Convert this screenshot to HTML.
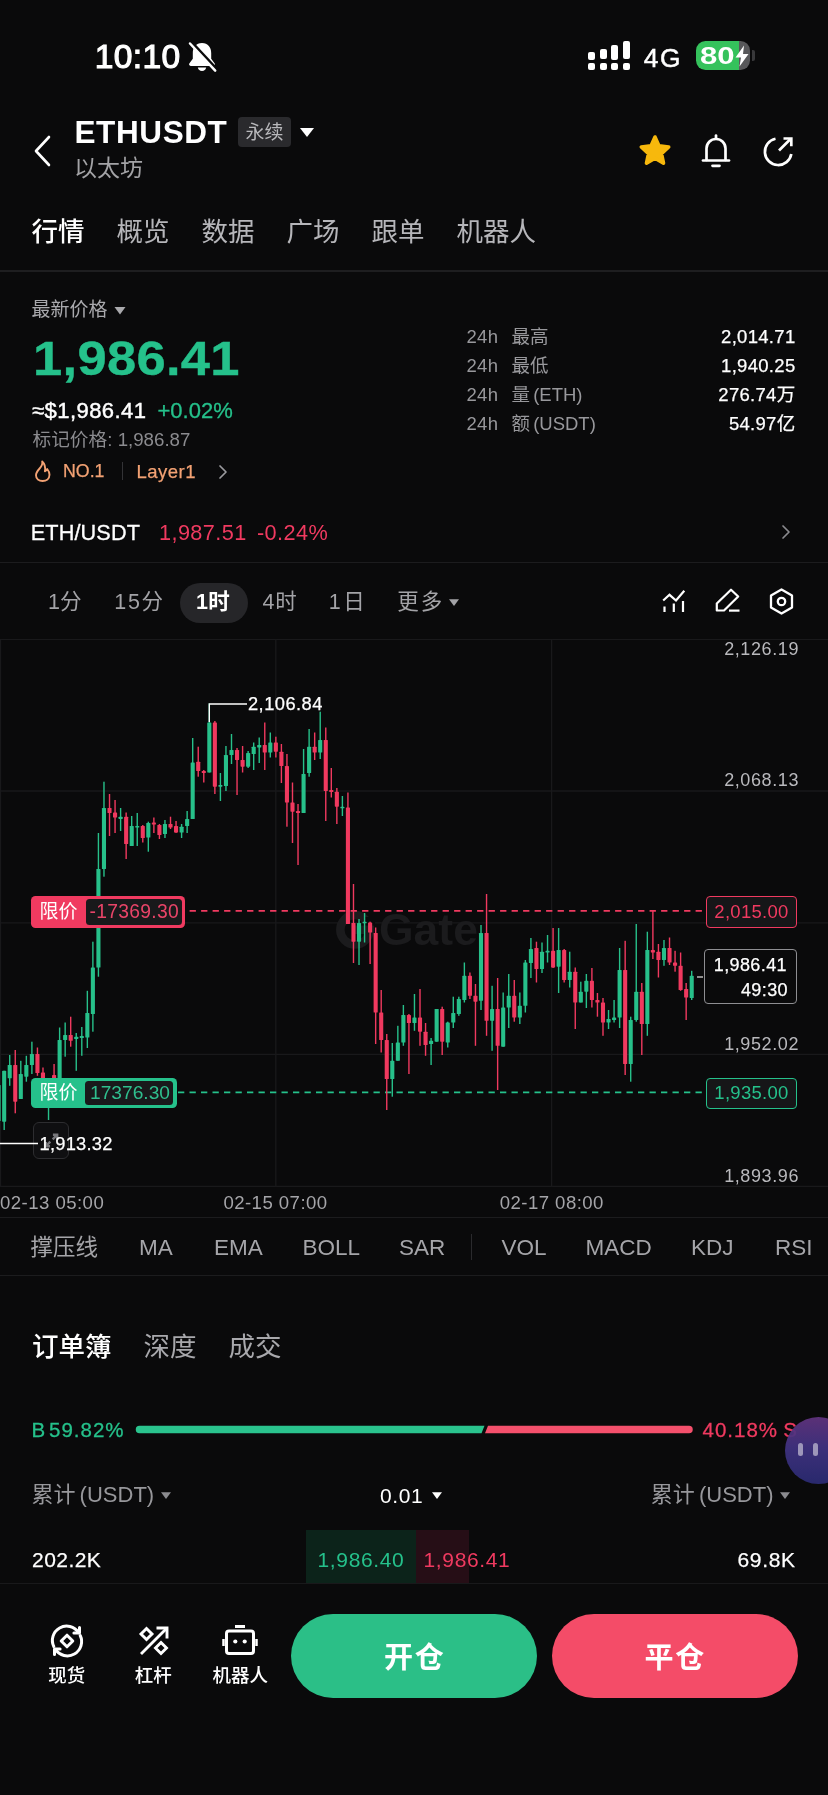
<!DOCTYPE html>
<html lang="zh-CN"><head><meta charset="utf-8"><title>ETHUSDT</title>
<style>
html,body{margin:0;padding:0;background:#0a0a0b;}
body{width:828px;height:1795px;position:relative;overflow:hidden;font-family:"Liberation Sans","Noto Sans CJK SC",sans-serif;color:#fff;}
.a{position:absolute;display:block;}
.t{position:absolute;white-space:nowrap;line-height:1;}
#w{position:absolute;left:0;top:0;width:828px;height:1795px;will-change:transform;}
</style></head><body><div id="w">
<div class="t" style="left:94.8px;top:40.3px;font-size:33.6px;color:#fff;letter-spacing:0.35px;-webkit-text-stroke:1.100px #fff;">10:10</div>
<svg class="a" style="left:185px;top:40px" width="34" height="34" viewBox="0 0 34 34">
<path d="M17 3C11 3 7.800 7.500 7.800 13V18.800L4.300 23.600C3.700 24.700 4.300 25.900 5.700 25.900H28.300C29.700 25.900 30.300 24.700 29.700 23.600L26.200 18.800V13C26.200 7.500 23 3 17 3Z" fill="#fff"/>
<path d="M12.800 27.600a4.300 4.300 0 0 0 8.400 0z" fill="#fff"/>
<path d="M3.500 0.500L31.500 30.500" stroke="#0a0a0b" stroke-width="3.600" stroke-linecap="butt" transform="translate(1.950,1.100)"/>
<path d="M5 3.500L30.200 30.600" stroke="#fff" stroke-width="2.500" stroke-linecap="round"/>
</svg>
<div class="a" style="left:588px;top:52px;width:7px;height:7.5px;background:#fff;border-radius:2px;"></div>
<div class="a" style="left:588px;top:62.5px;width:7px;height:7px;background:#fff;border-radius:2px;"></div>
<div class="a" style="left:599.5px;top:48.7px;width:7px;height:10.799999999999997px;background:#fff;border-radius:2px;"></div>
<div class="a" style="left:599.5px;top:62.5px;width:7px;height:7px;background:#fff;border-radius:2px;"></div>
<div class="a" style="left:611px;top:45px;width:7px;height:14.5px;background:#fff;border-radius:2px;"></div>
<div class="a" style="left:611px;top:62.5px;width:7px;height:7px;background:#fff;border-radius:2px;"></div>
<div class="a" style="left:622.5px;top:41.2px;width:7px;height:18.299999999999997px;background:#fff;border-radius:2px;"></div>
<div class="a" style="left:622.5px;top:62.5px;width:7px;height:7px;background:#fff;border-radius:2px;"></div>
<div class="t" style="left:643.8px;top:45.0px;font-size:26.3px;color:#fff;letter-spacing:1.5px;-webkit-text-stroke:0.5px #fff;">4G</div>
<div class="a" style="left:695.5px;top:41px;width:54.500px;height:29px;border-radius:9.500px;background:linear-gradient(90deg,#35c25c 0,#35c25c 79%,#58585a 79%);overflow:hidden"></div>
<div class="a" style="left:751.500px;top:50px;width:3.500px;height:11px;border-radius:0 2px 2px 0;background:#38383a"></div>
<div class="t" style="left:699.5px;top:43.9px;font-size:24.5px;color:#fff;font-weight:700;transform:scaleX(1.27);transform-origin:0 50%;">80</div>
<svg class="a" style="left:733px;top:44px" width="18" height="24" viewBox="0 0 18 24"><path d="M11 1.500L2.500 13.500h5.500L6.500 22.500L15.500 10h-5.500z" fill="#fff"/></svg>
<svg class="a" style="left:30px;top:130px" width="26" height="42" viewBox="0 0 26 42"><path d="M19 7L6 21L19 35" fill="none" stroke="#fff" stroke-width="2.600" stroke-linecap="round" stroke-linejoin="round"/></svg>
<div class="t" style="left:74.5px;top:116.9px;font-size:31.5px;color:#fff;font-weight:700;letter-spacing:0.6px;">ETHUSDT</div>
<div class="a" style="left:238px;top:117px;width:53px;height:30px;border-radius:4px;background:#2a2a2d"></div>
<div class="t" style="left:264.5px;transform:translateX(-50%);top:122.9px;font-size:19px;color:#b8b8bb;">永续</div>
<svg class="a" style="left:299px;top:126px" width="16" height="12" viewBox="0 0 16 12"><path d="M1 2h14L8 11z" fill="#fff"/></svg>
<div class="t" style="left:74px;top:157.0px;font-size:23px;color:#a3a3a6;">以太坊</div>
<svg class="a" style="left:636px;top:132px" width="38" height="38" viewBox="0 0 38 38"><path d="M19 5l4 8.900 9.700 1.100-7.200 6.600 2 9.600L19 26.300l-8.500 4.900 2-9.600L5.300 15l9.700-1.100z" fill="#f7b80c" stroke="#f7b80c" stroke-width="3.600" stroke-linejoin="round"/></svg>
<svg class="a" style="left:698px;top:130px" width="36" height="40" viewBox="0 0 36 40"><g fill="none" stroke="#fff" stroke-width="2.700" stroke-linecap="round" stroke-linejoin="round"><path d="M18 5.500v2.500"/><path d="M8.500 30V18.500a9.500 9.500 0 0 1 19 0V30"/><path d="M5 30.500h26"/><path d="M14.500 35.800h7"/></g></svg>
<svg class="a" style="left:760px;top:132px" width="36" height="38" viewBox="0 0 36 38"><g fill="none" stroke="#fff" stroke-width="2.700" stroke-linecap="butt" stroke-linejoin="miter"><path d="M15.500 6.700A13.300 13.300 0 1 0 31.300 22"/><path d="M19 18.500L30.500 7"/><path d="M23.500 6.500h7.800v7.800"/></g></svg>
<div class="t" style="left:31.5px;top:218.6px;font-size:26.5px;color:#fff;font-weight:500;">行情</div>
<div class="t" style="left:116.5px;top:218.6px;font-size:26.5px;color:#b6b6ba;">概览</div>
<div class="t" style="left:201.5px;top:218.6px;font-size:26.5px;color:#b6b6ba;">数据</div>
<div class="t" style="left:286.5px;top:218.6px;font-size:26.5px;color:#b6b6ba;">广场</div>
<div class="t" style="left:371.5px;top:218.6px;font-size:26.5px;color:#b6b6ba;">跟单</div>
<div class="t" style="left:456.5px;top:218.6px;font-size:26.5px;color:#b6b6ba;">机器人</div>
<div class="a" style="left:0px;top:270px;width:828px;height:1.5px;background:#1e1e20;"></div>
<div class="t" style="left:31.5px;top:299.9px;font-size:19px;color:#a9a9ad;">最新价格</div>
<svg class="a" style="left:114px;top:306px" width="12" height="9" viewBox="0 0 12 9"><path d="M.5 1h11L6 8.500z" fill="#a9a9ad"/></svg>
<div class="t" style="left:33.4px;top:333.9px;font-size:48.5px;color:#25c18b;font-weight:700;letter-spacing:0.3px;transform:scaleX(1.082);transform-origin:0 50%;-webkit-text-stroke:0.400px #25c18b;">1,986.41</div>
<div class="t" style="left:32px;top:399.7px;font-size:22px;color:#fff;letter-spacing:0.45px;-webkit-text-stroke:0.450px #fff;">≈$1,986.41</div>
<div class="t" style="left:157.5px;top:399.7px;font-size:22px;color:#25c18b;-webkit-text-stroke:0.300px #25c18b;">+0.02%</div>
<div class="t" style="left:32.5px;top:430.7px;font-size:18.7px;color:#8b8b8f;">标记价格: 1,986.87</div>
<svg class="a" style="left:32px;top:459px" width="22" height="24" viewBox="0 0 22 24"><path d="M10.200 2.500c.8 3.200-.8 5-2.600 7-1.900 2.100-3.600 4-3.600 6.800 0 3.600 3 5.700 6.600 5.700s6.900-2.200 6.900-6.200c0-2.300-1-4.200-2.300-5.800-.5 1.300-1.300 2-2.300 2.300.7-3.600-.300-7.500-2.700-9.800z" fill="none" stroke="#f3a274" stroke-width="1.900" stroke-linejoin="round"/></svg>
<div class="t" style="left:63px;top:463.2px;font-size:17.8px;color:#f3a274;-webkit-text-stroke:0.250px #f3a274;">NO.1</div>
<div class="a" style="left:121.5px;top:462px;width:1.2px;height:18px;background:#333336;"></div>
<div class="t" style="left:136.5px;top:462.6px;font-size:18.5px;color:#f3a274;letter-spacing:0.5px;-webkit-text-stroke:0.250px #f3a274;">Layer1</div>
<svg class="a" style="left:216px;top:463px" width="14" height="18" viewBox="0 0 14 18"><path d="M4 3l6 6-6 6" fill="none" stroke="#9a9a9e" stroke-width="1.700" stroke-linecap="round" stroke-linejoin="round"/></svg>
<div class="t" style="left:466.5px;top:328.1px;font-size:18.5px;color:#98989c;letter-spacing:0.3px;">24h</div>
<div class="t" style="left:511.5px;top:328.1px;font-size:18.5px;color:#98989c;word-spacing:-2px;">最高</div>
<div class="t" style="right:32.5px;top:328.1px;font-size:18.5px;color:#fff;letter-spacing:0.3px;-webkit-text-stroke:0.250px #fff;">2,014.71</div>
<div class="t" style="left:466.5px;top:357.2px;font-size:18.5px;color:#98989c;letter-spacing:0.3px;">24h</div>
<div class="t" style="left:511.5px;top:357.2px;font-size:18.5px;color:#98989c;word-spacing:-2px;">最低</div>
<div class="t" style="right:32.5px;top:357.2px;font-size:18.5px;color:#fff;letter-spacing:0.3px;-webkit-text-stroke:0.250px #fff;">1,940.25</div>
<div class="t" style="left:466.5px;top:386.0px;font-size:18.5px;color:#98989c;letter-spacing:0.3px;">24h</div>
<div class="t" style="left:511.5px;top:386.0px;font-size:18.5px;color:#98989c;word-spacing:-2px;">量 (ETH)</div>
<div class="t" style="right:32.5px;top:386.0px;font-size:18.5px;color:#fff;letter-spacing:0.3px;-webkit-text-stroke:0.250px #fff;">276.74万</div>
<div class="t" style="left:466.5px;top:415.0px;font-size:18.5px;color:#98989c;letter-spacing:0.3px;">24h</div>
<div class="t" style="left:511.5px;top:415.0px;font-size:18.5px;color:#98989c;word-spacing:-2px;">额 (USDT)</div>
<div class="t" style="right:32.5px;top:415.0px;font-size:18.5px;color:#fff;letter-spacing:0.3px;-webkit-text-stroke:0.250px #fff;">54.97亿</div>
<div class="t" style="left:30.8px;top:522.4px;font-size:21.7px;color:#fff;letter-spacing:0.1px;-webkit-text-stroke:0.300px #fff;">ETH/USDT</div>
<div class="t" style="left:159px;top:522.4px;font-size:21.7px;color:#f03a60;letter-spacing:0.4px;">1,987.51</div>
<div class="t" style="left:257px;top:522.4px;font-size:21.7px;color:#f03a60;letter-spacing:0.4px;">-0.24%</div>
<svg class="a" style="left:779px;top:522px" width="14" height="20" viewBox="0 0 14 20"><path d="M4 4l6 6-6 6" fill="none" stroke="#8a8a8e" stroke-width="1.700" stroke-linecap="round" stroke-linejoin="round"/></svg>
<div class="a" style="left:0px;top:561.5px;width:828px;height:1.5px;background:#1c1c1e;"></div>
<div class="a" style="left:179.5px;top:582.5px;width:68px;height:40.5px;background:#262629;border-radius:21px;"></div>
<div class="t" style="left:48px;top:591.8px;font-size:21.5px;color:#a3a3a7;">1分</div>
<div class="t" style="left:114.3px;top:591.8px;font-size:21.5px;color:#a3a3a7;letter-spacing:1.7px;">15分</div>
<div class="t" style="left:196px;top:591.8px;font-size:21.5px;color:#fff;font-weight:700;letter-spacing:0.3px;">1时</div>
<div class="t" style="left:262.5px;top:591.8px;font-size:21.5px;color:#a3a3a7;letter-spacing:0.7px;">4时</div>
<div class="t" style="left:328.8px;top:591.8px;font-size:21.5px;color:#a3a3a7;letter-spacing:2.6px;">1日</div>
<div class="t" style="left:397.3px;top:591.8px;font-size:21.5px;color:#a3a3a7;letter-spacing:2.0px;">更多</div>
<svg class="a" style="left:448px;top:598px" width="12" height="9" viewBox="0 0 12 9"><path d="M1 1.200h10L6 8z" fill="#a3a3a7"/></svg>
<svg class="a" style="left:660px;top:586px" width="28" height="30" viewBox="0 0 28 30"><g fill="none" stroke="#fff" stroke-width="2.200" stroke-linejoin="miter"><path d="M3.200 14.500l6.300-5.700 6.500 5.700 8.300-9.800"/><path d="M4.500 20.500v5.500M13.800 17.500v8.500M23 15v11"/></g></svg>
<svg class="a" style="left:713px;top:586px" width="30" height="30" viewBox="0 0 30 30"><g fill="none" stroke="#fff" stroke-width="2.200" stroke-linejoin="round" stroke-linecap="butt"><path d="M3.800 17.500L18 3.700l7.200 6.800L11 24.500H3.800z"/><path d="M16 24.600h10.500"/></g></svg>
<svg class="a" style="left:767px;top:586px" width="30" height="32" viewBox="0 0 30 32"><g fill="none" stroke="#fff" stroke-width="2.300" stroke-linejoin="round"><path d="M14.500 3.500l10.500 6v12l-10.500 6-10.500-6v-12z"/><circle cx="14.500" cy="15.500" r="3.700"/></g></svg>
<div class="a" style="left:32.500px;top:1122px;width:36px;height:36.500px;border-radius:6px;background:#0f0f11;border:1.400px solid #2d2d30;box-sizing:border-box"></div>
<svg class="a" style="left:42px;top:1131px" width="19" height="19" viewBox="0 0 24 24"><g fill="none" stroke="#77777b" stroke-width="3"><path d="M13.500 10.500L19 5M13.800 4.800H19.200V10.200"/><path d="M10.500 13.500L5 19M4.800 13.800V19.200H10.200"/></g></svg>
<svg class="a" style="left:0;top:639px" width="828" height="552" viewBox="0 0 828 552">
<g stroke="#19191b" stroke-width="1.300">
<line x1="0" x2="828" y1="0.2999999999999545" y2="0.2999999999999545"/>
<line x1="0" x2="828" y1="152" y2="152"/>
<line x1="0" x2="828" y1="283.79999999999995" y2="283.79999999999995"/>
<line x1="0" x2="828" y1="415.29999999999995" y2="415.29999999999995"/>
<line x1="0" x2="828" y1="547.3" y2="547.3"/>
<line x1="0.5" x2="0.5" y1="0" y2="547.3"/>
<line x1="275.8" x2="275.8" y1="0" y2="547.3"/>
<line x1="551.6" x2="551.6" y1="0" y2="547.3"/>
</g>
<circle cx="355" cy="290.79999999999995" r="14.700" fill="none" stroke="#1b1b1d" stroke-width="8.500"/><rect x="355" y="286.5" width="19" height="8.500" fill="#1b1b1d"/><rect x="364" y="278" width="11" height="8.500" fill="#0a0a0b"/>
<text x="379" y="306" font-family='"Liberation Sans","Noto Sans CJK SC",sans-serif' font-size="44.500" font-weight="700" fill="#1b1b1d">Gate</text>
<line x1="178.100" x2="705" y1="271.79999999999995" y2="271.79999999999995" stroke="#f03a60" stroke-width="1.700" stroke-dasharray="6.300 5.200"/>
<line x1="178" x2="705" y1="453.29999999999995" y2="453.29999999999995" stroke="#25c18b" stroke-width="1.700" stroke-dasharray="6.300 5.200"/>
<rect x="-2.08" y="436.0" width="1.4" height="68.0" fill="#27c08a"/>
<rect x="-3.42" y="446.0" width="4.1" height="36.0" fill="#27c08a" rx="0.6"/>
<rect x="3.47" y="431.8" width="1.4" height="59.2" fill="#27c08a"/>
<rect x="2.12" y="431.8" width="4.1" height="50.9" fill="#27c08a" rx="0.6"/>
<rect x="9.01" y="416.0" width="1.4" height="30.8" fill="#27c08a"/>
<rect x="7.66" y="426.0" width="4.1" height="13.3" fill="#27c08a" rx="0.6"/>
<rect x="14.56" y="411.0" width="1.4" height="63.3" fill="#f0395f"/>
<rect x="13.21" y="426.0" width="4.1" height="36.7" fill="#f0395f" rx="0.6"/>
<rect x="20.10" y="421.8" width="1.4" height="38.2" fill="#27c08a"/>
<rect x="18.75" y="435.0" width="4.1" height="25.0" fill="#27c08a" rx="0.6"/>
<rect x="25.65" y="416.8" width="1.4" height="25.9" fill="#27c08a"/>
<rect x="24.30" y="426.0" width="4.1" height="11.7" fill="#27c08a" rx="0.6"/>
<rect x="31.19" y="402.7" width="1.4" height="32.3" fill="#27c08a"/>
<rect x="29.84" y="415.0" width="4.1" height="11.0" fill="#27c08a" rx="0.6"/>
<rect x="36.74" y="408.5" width="1.4" height="28.3" fill="#f0395f"/>
<rect x="35.39" y="415.0" width="4.1" height="19.0" fill="#f0395f" rx="0.6"/>
<rect x="42.28" y="428.5" width="1.4" height="17.5" fill="#f0395f"/>
<rect x="40.93" y="433.5" width="4.1" height="7.5" fill="#f0395f" rx="0.6"/>
<rect x="47.83" y="439.0" width="1.4" height="42.0" fill="#27c08a"/>
<rect x="46.48" y="441.0" width="4.1" height="20.0" fill="#27c08a" rx="0.6"/>
<rect x="53.37" y="425.0" width="1.4" height="21.0" fill="#f0395f"/>
<rect x="52.02" y="436.0" width="4.1" height="5.0" fill="#f0395f" rx="0.6"/>
<rect x="58.92" y="388.5" width="1.4" height="54.5" fill="#27c08a"/>
<rect x="57.57" y="401.0" width="4.1" height="40.0" fill="#27c08a" rx="0.6"/>
<rect x="64.46" y="383.5" width="1.4" height="34.2" fill="#27c08a"/>
<rect x="63.11" y="396.0" width="4.1" height="5.0" fill="#27c08a" rx="0.6"/>
<rect x="70.00" y="377.7" width="1.4" height="30.0" fill="#f0395f"/>
<rect x="68.65" y="396.0" width="4.1" height="5.8" fill="#f0395f" rx="0.6"/>
<rect x="75.55" y="394.0" width="1.4" height="37.8" fill="#27c08a"/>
<rect x="74.20" y="397.7" width="4.1" height="2.3" fill="#27c08a" rx="0.6"/>
<rect x="81.09" y="388.0" width="1.4" height="28.8" fill="#27c08a"/>
<rect x="79.74" y="397.0" width="4.1" height="2.0" fill="#27c08a" rx="0.6"/>
<rect x="86.64" y="351.8" width="1.4" height="57.2" fill="#27c08a"/>
<rect x="85.29" y="374.0" width="4.1" height="24.5" fill="#27c08a" rx="0.6"/>
<rect x="92.18" y="302.7" width="1.4" height="90.0" fill="#27c08a"/>
<rect x="90.83" y="328.5" width="4.1" height="46.5" fill="#27c08a" rx="0.6"/>
<rect x="97.73" y="194.0" width="1.4" height="143.7" fill="#27c08a"/>
<rect x="96.38" y="230.0" width="4.1" height="98.5" fill="#27c08a" rx="0.6"/>
<rect x="103.27" y="142.7" width="1.4" height="95.0" fill="#27c08a"/>
<rect x="101.92" y="169.0" width="4.1" height="61.0" fill="#27c08a" rx="0.6"/>
<rect x="108.82" y="155.0" width="1.4" height="42.0" fill="#f0395f"/>
<rect x="107.47" y="169.0" width="4.1" height="5.0" fill="#f0395f" rx="0.6"/>
<rect x="114.36" y="161.0" width="1.4" height="33.0" fill="#f0395f"/>
<rect x="113.01" y="173.5" width="4.1" height="5.0" fill="#f0395f" rx="0.6"/>
<rect x="119.91" y="169.0" width="1.4" height="23.0" fill="#27c08a"/>
<rect x="118.56" y="177.7" width="4.1" height="2.3" fill="#27c08a" rx="0.6"/>
<rect x="125.45" y="173.5" width="1.4" height="46.5" fill="#f0395f"/>
<rect x="124.10" y="177.7" width="4.1" height="27.3" fill="#f0395f" rx="0.6"/>
<rect x="131.00" y="177.0" width="1.4" height="30.0" fill="#27c08a"/>
<rect x="129.65" y="187.0" width="4.1" height="20.0" fill="#27c08a" rx="0.6"/>
<rect x="136.54" y="174.0" width="1.4" height="33.0" fill="#27c08a"/>
<rect x="135.19" y="187.0" width="4.1" height="1.6" fill="#27c08a" rx="0.6"/>
<rect x="142.08" y="186.0" width="1.4" height="17.5" fill="#f0395f"/>
<rect x="140.73" y="187.0" width="4.1" height="12.0" fill="#f0395f" rx="0.6"/>
<rect x="147.63" y="182.7" width="1.4" height="30.0" fill="#27c08a"/>
<rect x="146.28" y="184.0" width="4.1" height="14.5" fill="#27c08a" rx="0.6"/>
<rect x="153.17" y="178.5" width="1.4" height="15.5" fill="#f0395f"/>
<rect x="151.82" y="183.5" width="4.1" height="2.0" fill="#f0395f" rx="0.6"/>
<rect x="158.72" y="185.0" width="1.4" height="15.0" fill="#f0395f"/>
<rect x="157.37" y="186.0" width="4.1" height="10.0" fill="#f0395f" rx="0.6"/>
<rect x="164.26" y="181.0" width="1.4" height="18.0" fill="#27c08a"/>
<rect x="162.91" y="185.0" width="4.1" height="10.0" fill="#27c08a" rx="0.6"/>
<rect x="169.81" y="177.7" width="1.4" height="12.3" fill="#f0395f"/>
<rect x="168.46" y="185.0" width="4.1" height="3.5" fill="#f0395f" rx="0.6"/>
<rect x="175.35" y="182.0" width="1.4" height="12.0" fill="#f0395f"/>
<rect x="174.00" y="187.0" width="4.1" height="6.5" fill="#f0395f" rx="0.6"/>
<rect x="180.90" y="185.0" width="1.4" height="14.0" fill="#27c08a"/>
<rect x="179.55" y="187.7" width="4.1" height="5.8" fill="#27c08a" rx="0.6"/>
<rect x="186.44" y="172.0" width="1.4" height="22.0" fill="#27c08a"/>
<rect x="185.09" y="180.0" width="4.1" height="7.0" fill="#27c08a" rx="0.6"/>
<rect x="191.99" y="99.0" width="1.4" height="81.0" fill="#27c08a"/>
<rect x="190.64" y="123.5" width="4.1" height="56.5" fill="#27c08a" rx="0.6"/>
<rect x="197.53" y="107.7" width="1.4" height="30.0" fill="#f0395f"/>
<rect x="196.18" y="122.7" width="4.1" height="9.3" fill="#f0395f" rx="0.6"/>
<rect x="203.08" y="131.0" width="1.4" height="12.5" fill="#f0395f"/>
<rect x="201.73" y="132.0" width="4.1" height="2.0" fill="#f0395f" rx="0.6"/>
<rect x="208.62" y="64.5" width="1.4" height="69.0" fill="#27c08a"/>
<rect x="207.27" y="83.5" width="4.1" height="50.0" fill="#27c08a" rx="0.6"/>
<rect x="214.16" y="82.0" width="1.4" height="73.0" fill="#f0395f"/>
<rect x="212.81" y="83.5" width="4.1" height="64.2" fill="#f0395f" rx="0.6"/>
<rect x="219.71" y="134.0" width="1.4" height="28.0" fill="#27c08a"/>
<rect x="218.36" y="146.0" width="4.1" height="1.7" fill="#27c08a" rx="0.6"/>
<rect x="225.25" y="107.0" width="1.4" height="45.0" fill="#27c08a"/>
<rect x="223.90" y="116.0" width="4.1" height="31.0" fill="#27c08a" rx="0.6"/>
<rect x="230.80" y="95.0" width="1.4" height="30.0" fill="#27c08a"/>
<rect x="229.45" y="111.0" width="4.1" height="5.0" fill="#27c08a" rx="0.6"/>
<rect x="236.34" y="109.0" width="1.4" height="47.0" fill="#f0395f"/>
<rect x="234.99" y="111.0" width="4.1" height="10.0" fill="#f0395f" rx="0.6"/>
<rect x="241.89" y="107.0" width="1.4" height="26.5" fill="#f0395f"/>
<rect x="240.54" y="121.0" width="4.1" height="6.7" fill="#f0395f" rx="0.6"/>
<rect x="247.43" y="112.0" width="1.4" height="17.0" fill="#27c08a"/>
<rect x="246.08" y="114.0" width="4.1" height="13.7" fill="#27c08a" rx="0.6"/>
<rect x="252.98" y="103.5" width="1.4" height="27.5" fill="#27c08a"/>
<rect x="251.63" y="107.7" width="4.1" height="7.3" fill="#27c08a" rx="0.6"/>
<rect x="258.52" y="98.5" width="1.4" height="25.5" fill="#27c08a"/>
<rect x="257.17" y="106.0" width="4.1" height="2.5" fill="#27c08a" rx="0.6"/>
<rect x="264.07" y="83.5" width="1.4" height="47.5" fill="#f0395f"/>
<rect x="262.72" y="106.0" width="4.1" height="7.5" fill="#f0395f" rx="0.6"/>
<rect x="269.61" y="93.5" width="1.4" height="25.0" fill="#27c08a"/>
<rect x="268.26" y="103.5" width="4.1" height="10.0" fill="#27c08a" rx="0.6"/>
<rect x="275.16" y="97.7" width="1.4" height="20.8" fill="#f0395f"/>
<rect x="273.81" y="103.5" width="4.1" height="9.2" fill="#f0395f" rx="0.6"/>
<rect x="280.70" y="105.0" width="1.4" height="39.0" fill="#f0395f"/>
<rect x="279.35" y="112.7" width="4.1" height="14.3" fill="#f0395f" rx="0.6"/>
<rect x="286.24" y="115.0" width="1.4" height="72.7" fill="#f0395f"/>
<rect x="284.89" y="127.0" width="4.1" height="36.5" fill="#f0395f" rx="0.6"/>
<rect x="291.79" y="143.5" width="1.4" height="60.5" fill="#f0395f"/>
<rect x="290.44" y="163.5" width="4.1" height="9.2" fill="#f0395f" rx="0.6"/>
<rect x="297.33" y="165.0" width="1.4" height="61.0" fill="#f0395f"/>
<rect x="295.98" y="172.0" width="4.1" height="2.0" fill="#f0395f" rx="0.6"/>
<rect x="302.88" y="110.0" width="1.4" height="64.0" fill="#27c08a"/>
<rect x="301.53" y="135.0" width="4.1" height="39.0" fill="#27c08a" rx="0.6"/>
<rect x="308.42" y="90.0" width="1.4" height="47.7" fill="#27c08a"/>
<rect x="307.07" y="107.7" width="4.1" height="26.3" fill="#27c08a" rx="0.6"/>
<rect x="313.97" y="93.5" width="1.4" height="27.5" fill="#f0395f"/>
<rect x="312.62" y="107.7" width="4.1" height="5.8" fill="#f0395f" rx="0.6"/>
<rect x="319.51" y="72.7" width="1.4" height="47.3" fill="#27c08a"/>
<rect x="318.16" y="101.0" width="4.1" height="12.5" fill="#27c08a" rx="0.6"/>
<rect x="325.06" y="88.5" width="1.4" height="93.5" fill="#f0395f"/>
<rect x="323.71" y="101.0" width="4.1" height="51.0" fill="#f0395f" rx="0.6"/>
<rect x="330.60" y="129.0" width="1.4" height="29.5" fill="#f0395f"/>
<rect x="329.25" y="151.0" width="4.1" height="2.0" fill="#f0395f" rx="0.6"/>
<rect x="336.15" y="149.0" width="1.4" height="36.0" fill="#f0395f"/>
<rect x="334.80" y="152.7" width="4.1" height="15.0" fill="#f0395f" rx="0.6"/>
<rect x="341.69" y="157.0" width="1.4" height="20.0" fill="#27c08a"/>
<rect x="340.34" y="167.7" width="4.1" height="1.6" fill="#27c08a" rx="0.6"/>
<rect x="347.23" y="153.5" width="1.4" height="131.5" fill="#f0395f"/>
<rect x="345.88" y="168.5" width="4.1" height="116.5" fill="#f0395f" rx="0.6"/>
<rect x="352.78" y="245.0" width="1.4" height="79.0" fill="#f0395f"/>
<rect x="351.43" y="284.0" width="4.1" height="18.7" fill="#f0395f" rx="0.6"/>
<rect x="358.32" y="280.0" width="1.4" height="46.0" fill="#27c08a"/>
<rect x="356.97" y="284.0" width="4.1" height="18.7" fill="#27c08a" rx="0.6"/>
<rect x="363.87" y="274.0" width="1.4" height="29.5" fill="#27c08a"/>
<rect x="362.52" y="282.7" width="4.1" height="1.6" fill="#27c08a" rx="0.6"/>
<rect x="369.41" y="282.7" width="1.4" height="42.3" fill="#f0395f"/>
<rect x="368.06" y="283.5" width="4.1" height="10.0" fill="#f0395f" rx="0.6"/>
<rect x="374.96" y="288.5" width="1.4" height="116.5" fill="#f0395f"/>
<rect x="373.61" y="294.0" width="4.1" height="79.5" fill="#f0395f" rx="0.6"/>
<rect x="380.50" y="351.0" width="1.4" height="62.5" fill="#f0395f"/>
<rect x="379.15" y="373.5" width="4.1" height="27.5" fill="#f0395f" rx="0.6"/>
<rect x="386.05" y="395.0" width="1.4" height="76.0" fill="#f0395f"/>
<rect x="384.70" y="401.0" width="4.1" height="39.0" fill="#f0395f" rx="0.6"/>
<rect x="391.59" y="404.0" width="1.4" height="53.7" fill="#27c08a"/>
<rect x="390.24" y="421.8" width="4.1" height="18.2" fill="#27c08a" rx="0.6"/>
<rect x="397.14" y="386.8" width="1.4" height="35.0" fill="#27c08a"/>
<rect x="395.79" y="403.5" width="4.1" height="18.3" fill="#27c08a" rx="0.6"/>
<rect x="402.68" y="366.0" width="1.4" height="40.8" fill="#27c08a"/>
<rect x="401.33" y="376.0" width="4.1" height="27.5" fill="#27c08a" rx="0.6"/>
<rect x="408.23" y="375.0" width="1.4" height="60.0" fill="#f0395f"/>
<rect x="406.88" y="376.0" width="4.1" height="8.0" fill="#f0395f" rx="0.6"/>
<rect x="413.77" y="355.0" width="1.4" height="36.8" fill="#27c08a"/>
<rect x="412.42" y="378.5" width="4.1" height="5.5" fill="#27c08a" rx="0.6"/>
<rect x="419.31" y="350.0" width="1.4" height="56.8" fill="#f0395f"/>
<rect x="417.96" y="378.5" width="4.1" height="14.2" fill="#f0395f" rx="0.6"/>
<rect x="424.86" y="384.0" width="1.4" height="32.8" fill="#f0395f"/>
<rect x="423.51" y="392.7" width="4.1" height="13.3" fill="#f0395f" rx="0.6"/>
<rect x="430.40" y="399.0" width="1.4" height="27.0" fill="#27c08a"/>
<rect x="429.05" y="401.8" width="4.1" height="3.2" fill="#27c08a" rx="0.6"/>
<rect x="435.95" y="370.0" width="1.4" height="32.7" fill="#27c08a"/>
<rect x="434.60" y="370.0" width="4.1" height="32.7" fill="#27c08a" rx="0.6"/>
<rect x="441.49" y="367.7" width="1.4" height="48.3" fill="#f0395f"/>
<rect x="440.14" y="370.0" width="4.1" height="32.7" fill="#f0395f" rx="0.6"/>
<rect x="447.04" y="382.7" width="1.4" height="25.8" fill="#27c08a"/>
<rect x="445.69" y="383.5" width="4.1" height="20.0" fill="#27c08a" rx="0.6"/>
<rect x="452.58" y="357.7" width="1.4" height="31.3" fill="#27c08a"/>
<rect x="451.23" y="374.0" width="4.1" height="9.5" fill="#27c08a" rx="0.6"/>
<rect x="458.13" y="357.7" width="1.4" height="19.1" fill="#27c08a"/>
<rect x="456.78" y="360.0" width="4.1" height="15.0" fill="#27c08a" rx="0.6"/>
<rect x="463.67" y="323.5" width="1.4" height="40.0" fill="#27c08a"/>
<rect x="462.32" y="336.8" width="4.1" height="24.2" fill="#27c08a" rx="0.6"/>
<rect x="469.22" y="333.5" width="1.4" height="26.5" fill="#f0395f"/>
<rect x="467.87" y="336.8" width="4.1" height="20.0" fill="#f0395f" rx="0.6"/>
<rect x="474.76" y="345.0" width="1.4" height="61.8" fill="#f0395f"/>
<rect x="473.41" y="356.8" width="4.1" height="5.9" fill="#f0395f" rx="0.6"/>
<rect x="480.31" y="286.0" width="1.4" height="85.0" fill="#27c08a"/>
<rect x="478.96" y="294.0" width="4.1" height="67.8" fill="#27c08a" rx="0.6"/>
<rect x="485.85" y="255.0" width="1.4" height="141.8" fill="#f0395f"/>
<rect x="484.50" y="294.0" width="4.1" height="87.8" fill="#f0395f" rx="0.6"/>
<rect x="491.39" y="346.8" width="1.4" height="65.0" fill="#27c08a"/>
<rect x="490.04" y="370.0" width="4.1" height="11.8" fill="#27c08a" rx="0.6"/>
<rect x="496.94" y="339.0" width="1.4" height="112.0" fill="#f0395f"/>
<rect x="495.59" y="370.0" width="4.1" height="36.8" fill="#f0395f" rx="0.6"/>
<rect x="502.48" y="353.5" width="1.4" height="54.2" fill="#27c08a"/>
<rect x="501.13" y="368.5" width="4.1" height="39.2" fill="#27c08a" rx="0.6"/>
<rect x="508.03" y="335.0" width="1.4" height="54.0" fill="#27c08a"/>
<rect x="506.68" y="356.8" width="4.1" height="11.7" fill="#27c08a" rx="0.6"/>
<rect x="513.57" y="341.0" width="1.4" height="41.7" fill="#f0395f"/>
<rect x="512.22" y="356.8" width="4.1" height="21.7" fill="#f0395f" rx="0.6"/>
<rect x="519.12" y="353.5" width="1.4" height="31.5" fill="#27c08a"/>
<rect x="517.77" y="366.8" width="4.1" height="11.7" fill="#27c08a" rx="0.6"/>
<rect x="524.66" y="321.0" width="1.4" height="52.5" fill="#27c08a"/>
<rect x="523.31" y="323.5" width="4.1" height="43.3" fill="#27c08a" rx="0.6"/>
<rect x="530.21" y="299.0" width="1.4" height="40.0" fill="#27c08a"/>
<rect x="528.86" y="310.0" width="4.1" height="14.0" fill="#27c08a" rx="0.6"/>
<rect x="535.75" y="302.7" width="1.4" height="40.8" fill="#f0395f"/>
<rect x="534.40" y="309.0" width="4.1" height="21.0" fill="#f0395f" rx="0.6"/>
<rect x="541.30" y="303.5" width="1.4" height="30.5" fill="#27c08a"/>
<rect x="539.95" y="312.7" width="4.1" height="17.3" fill="#27c08a" rx="0.6"/>
<rect x="546.84" y="296.0" width="1.4" height="27.5" fill="#27c08a"/>
<rect x="545.49" y="311.8" width="4.1" height="1.7" fill="#27c08a" rx="0.6"/>
<rect x="552.38" y="289.0" width="1.4" height="40.0" fill="#f0395f"/>
<rect x="551.04" y="311.8" width="4.1" height="16.7" fill="#f0395f" rx="0.6"/>
<rect x="557.93" y="289.0" width="1.4" height="65.0" fill="#27c08a"/>
<rect x="556.58" y="311.0" width="4.1" height="16.7" fill="#27c08a" rx="0.6"/>
<rect x="563.47" y="310.0" width="1.4" height="33.5" fill="#f0395f"/>
<rect x="562.12" y="311.0" width="4.1" height="30.0" fill="#f0395f" rx="0.6"/>
<rect x="569.02" y="312.7" width="1.4" height="35.8" fill="#27c08a"/>
<rect x="567.67" y="332.7" width="4.1" height="8.3" fill="#27c08a" rx="0.6"/>
<rect x="574.56" y="328.5" width="1.4" height="61.5" fill="#f0395f"/>
<rect x="573.21" y="332.7" width="4.1" height="30.8" fill="#f0395f" rx="0.6"/>
<rect x="580.11" y="342.7" width="1.4" height="20.8" fill="#27c08a"/>
<rect x="578.76" y="352.7" width="4.1" height="10.8" fill="#27c08a" rx="0.6"/>
<rect x="585.65" y="335.0" width="1.4" height="34.0" fill="#27c08a"/>
<rect x="584.30" y="341.8" width="4.1" height="10.9" fill="#27c08a" rx="0.6"/>
<rect x="591.20" y="329.0" width="1.4" height="39.5" fill="#f0395f"/>
<rect x="589.85" y="341.8" width="4.1" height="19.2" fill="#f0395f" rx="0.6"/>
<rect x="596.74" y="354.0" width="1.4" height="23.7" fill="#f0395f"/>
<rect x="595.39" y="361.0" width="4.1" height="2.5" fill="#f0395f" rx="0.6"/>
<rect x="602.29" y="359.0" width="1.4" height="37.8" fill="#f0395f"/>
<rect x="600.94" y="363.5" width="4.1" height="20.0" fill="#f0395f" rx="0.6"/>
<rect x="607.83" y="371.0" width="1.4" height="19.0" fill="#27c08a"/>
<rect x="606.48" y="380.0" width="4.1" height="3.5" fill="#27c08a" rx="0.6"/>
<rect x="613.38" y="361.0" width="1.4" height="22.5" fill="#27c08a"/>
<rect x="612.03" y="378.5" width="4.1" height="2.5" fill="#27c08a" rx="0.6"/>
<rect x="618.92" y="309.0" width="1.4" height="80.0" fill="#27c08a"/>
<rect x="617.57" y="331.0" width="4.1" height="47.5" fill="#27c08a" rx="0.6"/>
<rect x="624.46" y="301.8" width="1.4" height="134.2" fill="#f0395f"/>
<rect x="623.11" y="331.0" width="4.1" height="94.0" fill="#f0395f" rx="0.6"/>
<rect x="630.01" y="377.7" width="1.4" height="65.0" fill="#27c08a"/>
<rect x="628.66" y="381.0" width="4.1" height="44.0" fill="#27c08a" rx="0.6"/>
<rect x="635.55" y="285.0" width="1.4" height="97.7" fill="#27c08a"/>
<rect x="634.20" y="352.7" width="4.1" height="28.3" fill="#27c08a" rx="0.6"/>
<rect x="641.10" y="344.0" width="1.4" height="72.0" fill="#f0395f"/>
<rect x="639.75" y="352.7" width="4.1" height="32.3" fill="#f0395f" rx="0.6"/>
<rect x="646.64" y="292.7" width="1.4" height="104.1" fill="#27c08a"/>
<rect x="645.29" y="311.0" width="4.1" height="74.0" fill="#27c08a" rx="0.6"/>
<rect x="652.19" y="271.8" width="1.4" height="48.2" fill="#f0395f"/>
<rect x="650.84" y="311.0" width="4.1" height="2.5" fill="#f0395f" rx="0.6"/>
<rect x="657.73" y="305.0" width="1.4" height="33.5" fill="#f0395f"/>
<rect x="656.38" y="312.7" width="4.1" height="8.3" fill="#f0395f" rx="0.6"/>
<rect x="663.28" y="301.0" width="1.4" height="25.8" fill="#27c08a"/>
<rect x="661.93" y="309.0" width="4.1" height="12.0" fill="#27c08a" rx="0.6"/>
<rect x="668.82" y="298.5" width="1.4" height="27.5" fill="#f0395f"/>
<rect x="667.47" y="309.0" width="4.1" height="14.5" fill="#f0395f" rx="0.6"/>
<rect x="674.37" y="311.8" width="1.4" height="20.9" fill="#f0395f"/>
<rect x="673.02" y="323.5" width="4.1" height="3.3" fill="#f0395f" rx="0.6"/>
<rect x="679.91" y="313.5" width="1.4" height="38.3" fill="#f0395f"/>
<rect x="678.56" y="326.8" width="4.1" height="24.2" fill="#f0395f" rx="0.6"/>
<rect x="685.46" y="344.0" width="1.4" height="37.0" fill="#f0395f"/>
<rect x="684.11" y="350.0" width="4.1" height="8.5" fill="#f0395f" rx="0.6"/>
<rect x="691.00" y="331.8" width="1.4" height="29.2" fill="#27c08a"/>
<rect x="689.65" y="336.8" width="4.1" height="22.2" fill="#27c08a" rx="0.6"/>
<path d="M209.300 83V65H247" fill="none" stroke="#fff" stroke-width="1.400"/>
<path d="M0 504.5H38" fill="none" stroke="#fff" stroke-width="1.400"/>
<path d="M697 338h6" stroke="#bbb" stroke-width="1.500"/>
</svg>
<div class="t" style="right:29px;top:640.1px;font-size:18px;color:#b9b9bd;letter-spacing:0.6px;">2,126.19</div>
<div class="t" style="right:29px;top:771.1px;font-size:18px;color:#b9b9bd;letter-spacing:0.6px;">2,068.13</div>
<div class="t" style="right:29px;top:1035.4px;font-size:18px;color:#b9b9bd;letter-spacing:0.6px;">1,952.02</div>
<div class="t" style="right:29px;top:1166.6px;font-size:18px;color:#b9b9bd;letter-spacing:0.6px;">1,893.96</div>
<div class="t" style="left:248px;top:694.8px;font-size:18.3px;color:#fff;letter-spacing:0.45px;-webkit-text-stroke:0.25px #fff;">2,106.84</div>
<div class="t" style="left:39.5px;top:1134.5px;font-size:18.3px;color:#fff;letter-spacing:0.25px;-webkit-text-stroke:0.25px #fff;">1,913.32</div>
<div class="a" style="left:31px;top:895.5px;width:154px;height:32px;border-radius:4.500px;background:#f03a60"></div>
<div class="a" style="left:85.5px;top:898.5px;width:96.19999999999999px;height:26px;border-radius:3.500px;background:#19191b"></div>
<div class="t" style="left:39.5px;top:902.2px;font-size:19px;color:#fff;">限价</div>
<div class="t" style="left:89.5px;top:902.3px;font-size:19.3px;color:#e84468;letter-spacing:0.3px;">-17369.30</div>
<div class="a" style="left:31px;top:1077.5px;width:145.5px;height:30.5px;border-radius:4.500px;background:#25c18b"></div>
<div class="a" style="left:85px;top:1080.5px;width:88.19999999999999px;height:24.5px;border-radius:3.500px;background:#19191b"></div>
<div class="t" style="left:39.5px;top:1083.4px;font-size:19px;color:#fff;">限价</div>
<div class="t" style="left:90px;top:1083.4px;font-size:19.2px;color:#2fbf8e;">17376.30</div>
<div class="a" style="left:706px;top:896px;width:91px;height:31.500px;border-radius:4px;border:1.800px solid #f03a60;background:#161618;box-sizing:border-box"></div>
<div class="t" style="left:751.5px;transform:translateX(-50%);top:902.8px;font-size:18.5px;color:#f03a60;letter-spacing:0.3px;">2,015.00</div>
<div class="a" style="left:706px;top:1078px;width:91px;height:30.500px;border-radius:4px;border:1.800px solid #25c18b;background:#161618;box-sizing:border-box"></div>
<div class="t" style="left:751.5px;transform:translateX(-50%);top:1084.3px;font-size:18.5px;color:#25c18b;letter-spacing:0.3px;">1,935.00</div>
<div class="a" style="left:704px;top:949px;width:93px;height:54.500px;border-radius:4px;border:1.200px solid #8e8e92;background:#0a0a0b;box-sizing:border-box"></div>
<div class="t" style="right:41px;top:955.6px;font-size:18px;color:#fff;letter-spacing:0.4px;-webkit-text-stroke:0.250px #fff;">1,986.41</div>
<div class="t" style="right:40px;top:981.1px;font-size:18px;color:#fff;letter-spacing:0.4px;-webkit-text-stroke:0.250px #fff;">49:30</div>
<div class="t" style="left:0px;top:1194.3px;font-size:18.6px;color:#a5a5a9;letter-spacing:0.45px;">02-13 05:00</div>
<div class="t" style="left:275.5px;transform:translateX(-50%);top:1194.3px;font-size:18.6px;color:#a5a5a9;letter-spacing:0.45px;">02-15 07:00</div>
<div class="t" style="left:551.8px;transform:translateX(-50%);top:1194.3px;font-size:18.6px;color:#a5a5a9;letter-spacing:0.45px;">02-17 08:00</div>
<div class="a" style="left:0px;top:1216.5px;width:828px;height:1.3px;background:#1c1c1e;"></div>
<div class="t" style="left:30.5px;top:1236.5px;font-size:22.5px;color:#a5a5a9;">撑压线</div>
<div class="t" style="left:139px;top:1236.5px;font-size:22.5px;color:#a5a5a9;">MA</div>
<div class="t" style="left:214px;top:1236.5px;font-size:22.5px;color:#a5a5a9;">EMA</div>
<div class="t" style="left:302.5px;top:1236.5px;font-size:22.5px;color:#a5a5a9;">BOLL</div>
<div class="t" style="left:399px;top:1236.5px;font-size:22.5px;color:#a5a5a9;">SAR</div>
<div class="t" style="left:501.5px;top:1236.5px;font-size:22.5px;color:#a5a5a9;">VOL</div>
<div class="t" style="left:585.5px;top:1236.5px;font-size:22.5px;color:#a5a5a9;">MACD</div>
<div class="t" style="left:691px;top:1236.5px;font-size:22.5px;color:#a5a5a9;">KDJ</div>
<div class="t" style="left:775px;top:1236.5px;font-size:22.5px;color:#a5a5a9;">RSI</div>
<div class="a" style="left:470.5px;top:1234px;width:1.3px;height:26px;background:#2a2a2d;"></div>
<div class="a" style="left:0px;top:1274.5px;width:828px;height:1.3px;background:#1c1c1e;"></div>
<div class="t" style="left:32px;top:1333.6px;font-size:26.5px;color:#fff;font-weight:500;">订单簿</div>
<div class="t" style="left:143.5px;top:1333.6px;font-size:26.5px;color:#a8a8ac;">深度</div>
<div class="t" style="left:228.5px;top:1333.6px;font-size:26.5px;color:#a8a8ac;">成交</div>
<div class="t" style="left:31.5px;top:1420.3px;font-size:20.5px;color:#25c18b;-webkit-text-stroke:0.300px #25c18b;">B</div>
<div class="t" style="left:49px;top:1420.3px;font-size:20.5px;color:#25c18b;letter-spacing:1.0px;-webkit-text-stroke:0.300px #25c18b;">59.82%</div>
<svg class="a" style="left:130px;top:1420px" width="570" height="20" viewBox="0 0 570 20">
<path d="M9.500 5.800H354.500L351.500 13.300H9.500a3.750 3.750 0 0 1 0-7.500z" fill="#2ac48e"/>
<path d="M358 5.800H559a3.750 3.750 0 0 1 0 7.500H355z" fill="#f4506c"/></svg>
<div class="t" style="left:702.5px;top:1420.3px;font-size:20.5px;color:#f03a60;letter-spacing:1.0px;-webkit-text-stroke:0.300px #f03a60;">40.18%</div>
<div class="t" style="left:783.3px;top:1420.3px;font-size:20.5px;color:#f03a60;-webkit-text-stroke:0.300px #f03a60;">S</div>
<div class="a" style="left:785px;top:1416.500px;width:67px;height:67px;border-radius:34px;background:linear-gradient(180deg,rgba(98,52,128,.93) 0,rgba(64,50,128,.95) 45%,rgba(42,42,112,.97) 100%)"></div>
<div class="a" style="left:797.500px;top:1442.500px;width:5.800px;height:13.500px;border-radius:2.900px;background:#9d96ba"></div>
<div class="a" style="left:812.500px;top:1442.500px;width:5.800px;height:13.500px;border-radius:2.900px;background:#9d96ba"></div>
<div class="t" style="left:31.5px;top:1483.9px;font-size:22px;color:#97979b;word-spacing:-2px;">累计 (USDT)</div>
<svg class="a" style="left:160px;top:1491px" width="12" height="9" viewBox="0 0 12 9"><path d="M1 1.200h10L6 8z" fill="#8b8b8f"/></svg>
<div class="t" style="left:380px;top:1485.0px;font-size:21px;color:#fff;letter-spacing:0.6px;">0.01</div>
<svg class="a" style="left:431px;top:1491px" width="12" height="9" viewBox="0 0 12 9"><path d="M1 1.200h10L6 8z" fill="#fff"/></svg>
<div class="t" style="right:54.5px;top:1483.9px;font-size:22px;color:#97979b;word-spacing:-2px;">累计 (USDT)</div>
<svg class="a" style="left:779px;top:1491px" width="12" height="9" viewBox="0 0 12 9"><path d="M1 1.200h10L6 8z" fill="#8b8b8f"/></svg>
<div class="a" style="left:306px;top:1530px;width:109.5px;height:53px;background:#0c231a;"></div>
<div class="a" style="left:415.5px;top:1530px;width:53px;height:53px;background:#260e16;"></div>
<div class="t" style="left:32px;top:1549.2px;font-size:21px;color:#fff;letter-spacing:0.45px;-webkit-text-stroke:0.250px #fff;">202.2K</div>
<div class="t" style="left:317.5px;top:1549.2px;font-size:21px;color:#25c18b;letter-spacing:0.65px;">1,986.40</div>
<div class="t" style="left:423.5px;top:1549.2px;font-size:21px;color:#f03a60;letter-spacing:0.65px;">1,986.41</div>
<div class="t" style="right:32.200000000000045px;top:1549.2px;font-size:21px;color:#fff;letter-spacing:0.7px;-webkit-text-stroke:0.250px #fff;">69.8K</div>
<div class="a" style="left:0px;top:1582.5px;width:828px;height:212.5px;background:#0a0a0b;border-top:1.200px solid #19191b;"></div>
<svg class="a" style="left:48px;top:1622px" width="38" height="38" viewBox="0 0 38 38"><g fill="none" stroke="#fff" stroke-width="3" stroke-linecap="round" stroke-linejoin="round">
<path d="M5.800 24.500A14.200 14.200 0 0 1 30.500 10.600"/><path d="M32.200 13.500A14.200 14.200 0 0 1 7.500 27.400"/>
<path d="M31.500 5.500v5.600h-5.600"/><path d="M6.500 32.500v-5.600h5.600"/>
<path d="M19 13.200l5.800 5.800-5.800 5.800-5.800-5.800z"/></g></svg>
<svg class="a" style="left:136px;top:1623px" width="36" height="36" viewBox="0 0 36 36"><g fill="none" stroke="#fff" stroke-width="2.900" stroke-linecap="butt" stroke-linejoin="miter">
<path d="M5 31L30.500 5.500"/><path d="M20.500 5h10.500v10.500"/>
<path d="M10.500 5.500l5.500 5.500-5.500 5.500L5 11z"/><path d="M25 19.500l5.500 5.500-5.500 5.500-5.500-5.500z"/></g></svg>
<svg class="a" style="left:221px;top:1622px" width="38" height="36" viewBox="0 0 38 36"><g fill="none" stroke="#fff" stroke-width="3" stroke-linejoin="round">
<path d="M14 4.500h10" stroke-width="3"/><rect x="5.500" y="9" width="27" height="22.500" rx="2.500"/>
<path d="M2.500 17v7M35.500 17v7" stroke-width="2.500"/></g><circle cx="14.300" cy="19.500" r="2.100" fill="#fff"/><circle cx="23.700" cy="19.500" r="2.100" fill="#fff"/></svg>
<div class="t" style="left:66.7px;transform:translateX(-50%);top:1667.3px;font-size:18.5px;color:#fff;font-weight:500;">现货</div>
<div class="t" style="left:153.3px;transform:translateX(-50%);top:1667.3px;font-size:18.5px;color:#fff;font-weight:500;">杠杆</div>
<div class="t" style="left:240.3px;transform:translateX(-50%);top:1667.3px;font-size:18.5px;color:#fff;font-weight:500;">机器人</div>
<div class="a" style="left:291px;top:1614px;width:246px;height:84px;border-radius:42px;background:#2bbf87"></div>
<div class="a" style="left:552px;top:1614px;width:245.500px;height:84px;border-radius:42px;background:#f44c68"></div>
<div class="t" style="left:414.8px;transform:translateX(-50%);top:1644.3px;font-size:29px;color:#fff;font-weight:700;letter-spacing:1.8px;">开仓</div>
<div class="t" style="left:675.3px;transform:translateX(-50%);top:1644.3px;font-size:29px;color:#fff;font-weight:700;letter-spacing:1.8px;">平仓</div>
</div></body></html>
